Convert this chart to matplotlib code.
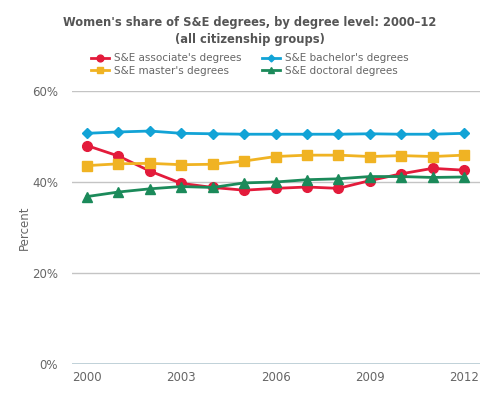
import matplotlib.pyplot as plt
import numpy as np

years = list(range(2000, 2013))
associate = [48.0, 45.7, 42.4, 39.7, 38.8, 38.2, 38.6, 38.9, 38.6, 40.3, 41.8, 43.0, 42.6]
bachelor = [50.7, 51.0, 51.2, 50.7, 50.6, 50.5, 50.5, 50.5, 50.5, 50.6, 50.5, 50.5, 50.7]
master = [43.6, 44.0, 44.1, 43.8, 43.9, 44.6, 45.6, 45.9, 45.9, 45.6, 45.8, 45.6, 45.9]
doctoral = [36.8, 37.8, 38.5, 39.0, 38.8, 39.8, 40.0, 40.5, 40.7, 41.2, 41.2, 41.0, 41.1]

xticks = [2000, 2003, 2006, 2009, 2012]
yticks = [0, 20, 40, 60]

txt = "#666666"

fig = plt.figure(figsize=(5, 4), dpi=100)
ax = fig.add_axes([0.144, 0.09, 0.816, 0.6825])

l1, = ax.plot(years, associate, color="#e31b3b", marker="o", markersize=7, lw=2,
              label="S&E associate's degrees", zorder=3)
l2, = ax.plot(years, bachelor, color="#12a3d6", marker="D", markersize=5, lw=2,
              label="S&E bachelor's degrees", zorder=3)
l3, = ax.plot(years, master, color="#f0b323", marker="s", markersize=7, lw=2,
              label="S&E master's degrees", zorder=3)
l4, = ax.plot(years, doctoral, color="#1b8a5a", marker="^", markersize=7, lw=2,
              label="S&E doctoral degrees", zorder=3)

ax.set_xlim(1999.52, 2012.51)
ax.set_ylim(0, 60)
ax.set_xticks(xticks)
ax.set_yticks(yticks)
ax.set_yticklabels([f"{v}%" for v in yticks])
ax.tick_params(length=0, colors=txt, labelsize=8.5)
ax.tick_params(axis="y", pad=10)
ax.tick_params(axis="x", pad=5)
for s in ax.spines.values():
    s.set_visible(False)
ax.yaxis.grid(True, color="#c4c4c4", lw=1)
ax.axhline(0, color="#b8ccd4", lw=1.2, zorder=1)
ax.set_axisbelow(True)
ax.set_ylabel("Percent", color=txt, fontsize=8.5, labelpad=1)

fig.suptitle("Women's share of S&E degrees, by degree level: 2000\u201312\n(all citizenship groups)",
             x=0.5, y=0.96, fontsize=8.3, fontweight="bold", color="#555555", linespacing=1.45)

ax.legend([l1, l3, l2, l4], [l.get_label() for l in (l1, l3, l2, l4)],
          loc="center", bbox_to_anchor=(0.5, 0.838), bbox_transform=fig.transFigure,
          ncol=2, frameon=False, fontsize=7.5, labelcolor=txt, handlelength=1.7,
          columnspacing=2.0, handletextpad=0.5, labelspacing=0.25, markerscale=0.7)

fig.savefig("out.png", dpi=100)
